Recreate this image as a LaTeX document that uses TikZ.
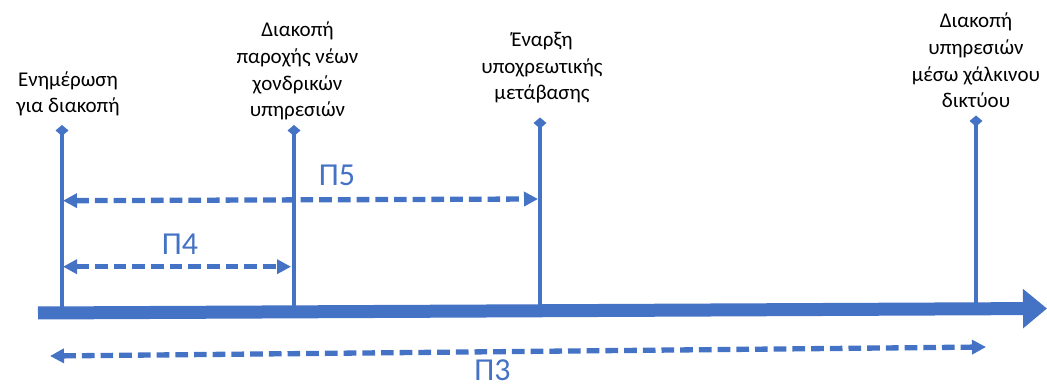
\documentclass[tikz,border=0pt]{standalone}
\usepackage{fontspec}
\setmainfont{Carlito}
\usetikzlibrary{arrows.meta, positioning}
\definecolor{officeblue}{HTML}{4472C4}

\begin{document}
\begin{tikzpicture}
    [
        x=1pt, y=-1pt,
        event/.style={align=center, anchor=base, inner sep=0pt, font=\fontsize{21}{26.7}\selectfont},
        period/.style={anchor=base, inner sep=0pt, text=officeblue, font=\fontsize{32}{38}\selectfont},
        tick/.style={draw=officeblue, line width=4.3pt, -{Diamond[length=11pt,width=13pt]}},
        span/.style={draw=officeblue, line width=5.3pt, dash pattern=on 12.7pt off 6pt,
            {Triangle[length=14pt,width=14pt]}-{Triangle[length=14pt,width=14pt]}},
        timeline/.style={draw=officeblue, line width=13pt, -{Triangle[length=24pt,width=38pt]}},
    ]
    \useasboundingbox (0,0) rectangle (1047,387);

    % events on the time line
    \node[event] (notice) at (68,113) {Ενημέρωση\\για διακοπή};
    \node[event] (wholesale) at (297.5,117) {Διακοπή\\παροχής νέων\\χονδρικών\\υπηρεσιών};
    \node[event] (migration) at (542,100) {Έναρξη\\υποχρεωτικής\\μετάβασης};
    \node[event] (copper) at (976,108) {Διακοπή\\υπηρεσιών\\μέσω χάλκινου\\δικτύου};

    \coordinate (top1) at (62,125);    \coordinate (foot1) at (62,312);
    \coordinate (top2) at (294,125);   \coordinate (foot2) at (294,311);
    \coordinate (top3) at (540,117.5); \coordinate (foot3) at (540,310);
    \coordinate (top4) at (976,115.5); \coordinate (foot4) at (976,308);

    \draw[tick] (foot1) -- (top1);
    \draw[tick] (foot2) -- (top2);
    \draw[tick] (foot3) -- (top3);
    \draw[tick] (foot4) -- (top4);

    % time axis
    \coordinate (start) at (38,313);
    \coordinate (end) at (1047,308.5);
    \draw[timeline] (start) -- (end);

    % periods
    \coordinate (p5a) at (63,200.7); \coordinate (p5b) at (538,199);
    \coordinate (p4a) at (63,266.7); \coordinate (p4b) at (291,266.7);
    \coordinate (p3a) at (50,356);   \coordinate (p3b) at (986,347);

    \draw[span] (p5a) -- (p5b);
    \draw[span] (p4a) -- (p4b);
    \draw[span] (p3a) -- (p3b);

    \node[period] (p5) at (337,186) {Π5};
    \node[period] (p4) at (180,255) {Π4};
    \node[period] (p3) at (492.5,381) {Π3};
\end{tikzpicture}
\end{document}
